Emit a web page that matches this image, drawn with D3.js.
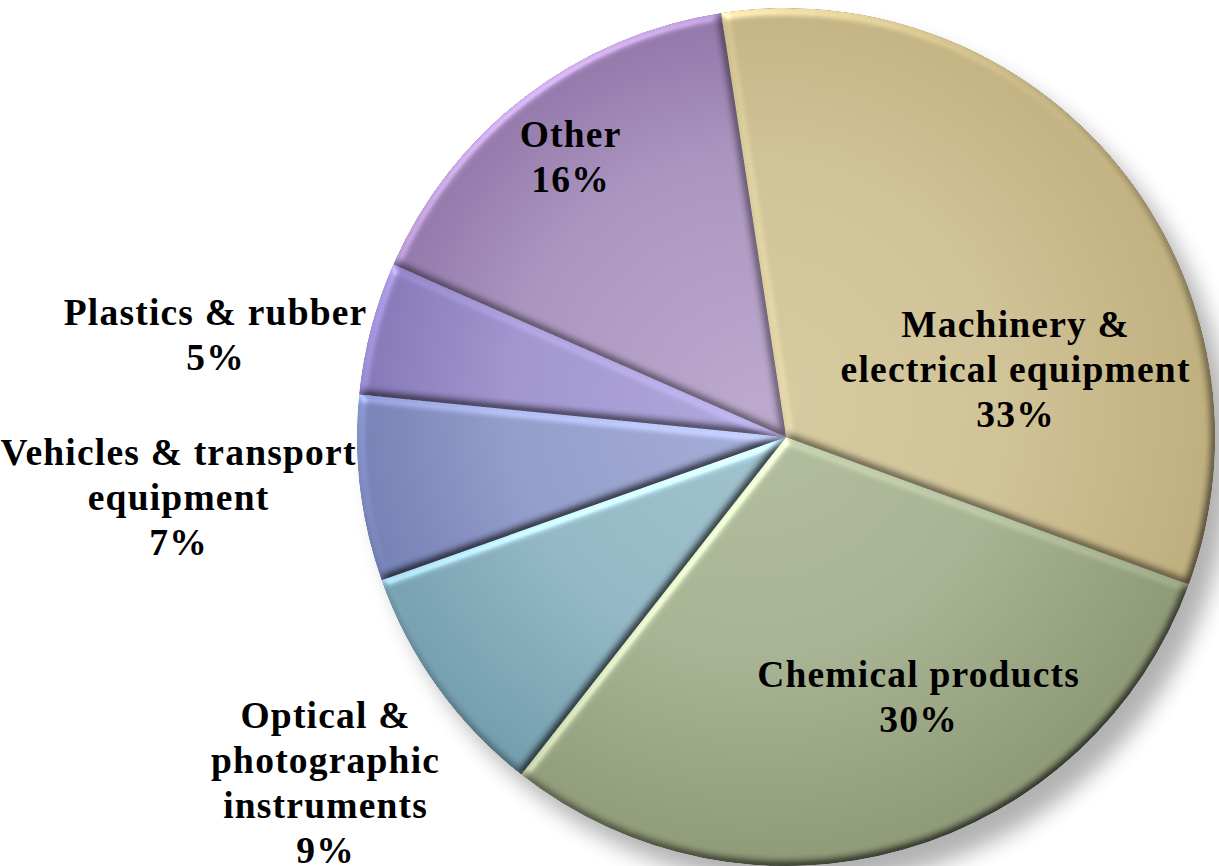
<!DOCTYPE html>
<html>
<head>
<meta charset="utf-8">
<script src="https://cdn.jsdelivr.net/npm/d3@7.9.0/dist/d3.min.js"></script>
<style>
  html, body { margin: 0; padding: 0; background: #fff; }
  svg { display: block; }
</style>
</head>
<body>
<div id="chart"></div>
<script>
// slice data, clockwise from just left of 12 o'clock
const categories = ['Machinery & electrical equipment', 'Chemical products',
  'Optical & photographic instruments', 'Vehicles & transport equipment',
  'Plastics & rubber', 'Other'];
const shares = [33, 30, 9, 7, 5, 16];
const labelLines = [
  ['Machinery &', 'electrical equipment', '33%'],
  ['Chemical products', '30%'],
  ['Optical &', 'photographic', 'instruments', '9%'],
  ['Vehicles & transport', 'equipment', '7%'],
  ['Plastics & rubber', '5%'],
  ['Other', '16%'],
];
const innerColors = ['#d6caa0', '#b3bd9f', '#a2c3cf', '#a3add6', '#b0a7dc', '#bba8cc'];
const outerColors = ['#c0af7e', '#8f9a78', '#6f9aab', '#6c78ae', '#7b6cae', '#87699f'];

// label layout: [dx of text centre, dy of first baseline] from pie centre
const labelOffsets = [[229, -100], [132, 250], [-461, 291], [-608, 28], [-571, -112], [-216, -290]];

const width = 1219;
const height = 866;
const cx = 786, cy = 437, radius = 429;
const lineGap = 45;

const svg = d3.select('#chart')
  .append('svg')
  .attr('width', width)
  .attr('height', height);

const defs = svg.append('defs');

// drop shadow under the whole pie
const shadow = defs.append('filter').attr('id', 'shadow')
  .attr('x', '-20%').attr('y', '-20%').attr('width', '140%').attr('height', '140%');
shadow.append('feGaussianBlur').attr('stdDeviation', 11);

// bevel: lit blurred alpha multiplied onto each slice
const bevel = defs.append('filter').attr('id', 'bevel')
  .attr('color-interpolation-filters', 'sRGB')
  .attr('x', '-5%').attr('y', '-5%').attr('width', '110%').attr('height', '110%');
bevel.append('feGaussianBlur').attr('in', 'SourceAlpha').attr('stdDeviation', 4).attr('result', 'b');
bevel.append('feDiffuseLighting')
  .attr('in', 'b').attr('surfaceScale', 3.5).attr('diffuseConstant', 1)
  .attr('lighting-color', '#fff').attr('result', 'd')
  .append('feDistantLight').attr('azimuth', 235).attr('elevation', 50);
bevel.append('feSpecularLighting')
  .attr('in', 'b').attr('surfaceScale', 4).attr('specularConstant', 0.5)
  .attr('specularExponent', 30).attr('lighting-color', '#fff').attr('result', 's')
  .append('feDistantLight').attr('azimuth', 235).attr('elevation', 40);
bevel.append('feComposite').attr('in', 's').attr('in2', 'SourceAlpha')
  .attr('operator', 'in').attr('result', 'sIn');
bevel.append('feComposite').attr('in', 'SourceGraphic').attr('in2', 'd')
  .attr('operator', 'arithmetic').attr('k1', 1.3).attr('k2', 0).attr('k3', 0).attr('k4', 0)
  .attr('result', 'lit');
bevel.append('feComposite').attr('in', 'lit').attr('in2', 'sIn')
  .attr('operator', 'arithmetic').attr('k1', 0).attr('k2', 1).attr('k3', 0.3).attr('k4', 0)
  .attr('result', 'lit2');
bevel.append('feComposite').attr('in', 'lit2').attr('in2', 'SourceAlpha').attr('operator', 'in');

// gradients live in the slice group's coordinates (origin = pie centre)
categories.forEach((c, i) => {
  const g = defs.append('radialGradient')
    .attr('id', 'grad' + i)
    .attr('gradientUnits', 'userSpaceOnUse')
    .attr('cx', -30).attr('cy', -30).attr('r', radius * 1.05);
  g.append('stop').attr('offset', '0%').attr('stop-color', innerColors[i]);
  g.append('stop').attr('offset', '55%').attr('stop-color', d3.interpolateRgb(innerColors[i], outerColors[i])(0.3));
  g.append('stop').attr('offset', '100%').attr('stop-color', outerColors[i]);
});

const data = categories.map((c, i) => ({ name: c, value: shares[i], i }));

const startAngle = -8.7 * Math.PI / 180;
const pie = d3.pie()
  .sort(null)
  .value(d => d.value)
  .startAngle(startAngle)
  .endAngle(startAngle + 2 * Math.PI);

const arc = d3.arc().innerRadius(0).outerRadius(radius);

// shadow disc
svg.append('circle')
  .attr('cx', cx + 16)
  .attr('cy', cy + 20)
  .attr('r', radius)
  .attr('fill', '#000')
  .attr('opacity', 0.3)
  .attr('filter', 'url(#shadow)');

const slices = svg.append('g')
  .attr('transform', `translate(${cx},${cy})`);

slices.selectAll('path')
  .data(pie(data))
  .join('path')
  .attr('d', arc)
  .attr('fill', d => `url(#grad${d.data.i})`)
  .attr('filter', 'url(#bevel)');

// Palatino-like width: Times bold plus a little tracking
const fontFamily = '"Liberation Serif", "Times New Roman", serif';
const fontSize = 37.5;
const probe = svg.append('text')
  .attr('font-family', fontFamily)
  .attr('font-weight', 'bold')
  .attr('font-size', fontSize)
  .text('electrical equipment');
const probeW = probe.node().getComputedTextLength();
probe.remove();
const tracking = Math.max(0, (350 - probeW) / 20);

const labels = svg.append('g')
  .attr('font-family', fontFamily)
  .attr('font-weight', 'bold')
  .attr('font-size', fontSize)
  .attr('letter-spacing', tracking)
  .attr('fill', '#000')
  .attr('text-anchor', 'middle');

labelLines.forEach((lines, i) => {
  const [dx, dy] = labelOffsets[i];
  const t = labels.append('text')
    .attr('x', cx + dx + tracking / 2)
    .attr('y', cy + dy);
  lines.forEach((ln, j) => {
    t.append('tspan')
      .attr('x', cx + dx + tracking / 2)
      .attr('dy', j === 0 ? 0 : lineGap)
      .text(ln);
  });
});
</script>
</body>
</html>
